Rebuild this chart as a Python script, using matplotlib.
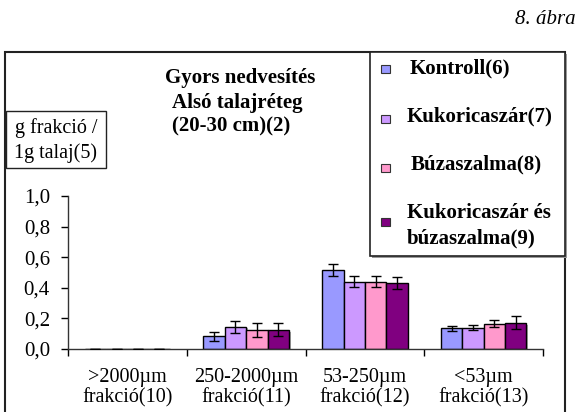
import matplotlib
matplotlib.use("Agg")
import matplotlib.pyplot as plt
import matplotlib.patheffects as pe
from matplotlib.patches import Rectangle
import numpy as np

plt.rcParams['font.family'] = ['Liberation Serif', 'DejaVu Serif']

# size fractions (x groups) and treatments (bars)
fractions = ['>2000µm\nfrakció(10)', '250-2000µm\nfrakció(11)',
             '53-250µm\nfrakció(12)', '<53µm\nfrakció(13)']
treatments = ['Kontroll(6)', 'Kukoricaszár(7)', 'Búzaszalma(8)',
              'Kukoricaszár és\nbúzaszalma(9)']
colors = ['#9999FF', '#CC99FF', '#FF99CC', '#800080']

# g fraction / 1 g soil, one list per treatment
kontroll = [0.0, 0.082, 0.518, 0.134]
kukorica = [0.0, 0.145, 0.441, 0.140]
buza = [0.0, 0.125, 0.441, 0.165]
kukorica_buza = [0.0, 0.125, 0.430, 0.171]

kontroll_err = [0.0, 0.028, 0.038, 0.015]
kukorica_err = [0.0, 0.040, 0.038, 0.016]
buza_err = [0.0, 0.047, 0.038, 0.024]
kukorica_buza_err = [0.0, 0.043, 0.040, 0.042]

values = [kontroll, kukorica, buza, kukorica_buza]
errors = [kontroll_err, kukorica_err, buza_err, kukorica_buza_err]

W, H = 579, 412
fig = plt.figure(figsize=(W / 100, H / 100), dpi=100)


def fx(px):
    return px / W


def fy(py):
    return 1 - py / H


ax = fig.add_axes([fx(68), fy(349), fx(543) - fx(68), fy(196) - fy(349)])

x = np.arange(len(fractions))
bw = 0.18
shadow = [pe.SimplePatchShadow(offset=(1.2, -1.2), shadow_rgbFace='#888888', alpha=0.7),
          pe.Normal()]
for i, (vals, errs) in enumerate(zip(values, errors)):
    pos = x + (i - 1.5) * bw
    bars = ax.bar(pos, vals, bw, color=colors[i], edgecolor='black', linewidth=1.0,
                  zorder=2)
    for b in bars:
        b.set_path_effects(shadow)
    ax.errorbar(pos, vals, yerr=errs, fmt='none', ecolor='black', elinewidth=1.0,
                capsize=3.5, capthick=1.0, zorder=3)

ax.set_xlim(-0.5, 3.5)
ax.set_ylim(0, 1.0)
ax.set_yticks(np.arange(0, 1.01, 0.2))
ax.set_yticklabels([f'{v:.1f}'.replace('.', ',') for v in np.arange(0, 1.01, 0.2)],
                   fontsize=15)
ax.tick_params(axis='y', direction='out', length=5, width=1, pad=8)

ax.set_xticks(x)
ax.set_xticklabels(fractions, fontsize=14.5, linespacing=1.05)
ax.tick_params(axis='x', length=0, pad=14)
ax.set_xticks(np.arange(-0.5, 4, 1), minor=True)
ax.tick_params(axis='x', which='minor', direction='out', length=5, width=1)

for s in ['top', 'right']:
    ax.spines[s].set_visible(False)
for s in ['left', 'bottom']:
    ax.spines[s].set_color('#333333')
    ax.spines[s].set_linewidth(1.0)

# outer frame (bottom edge runs past the image)
fig.patches.append(Rectangle((fx(5), -0.1), fx(565) - fx(5), fy(52) + 0.1,
                             transform=fig.transFigure, fill=False,
                             edgecolor='#222222', linewidth=1.5))

# y unit box
fig.patches.append(Rectangle((fx(6), fy(168)), fx(106) - fx(6), fy(111) - fy(168),
                             transform=fig.transFigure, fill=False,
                             edgecolor='#222222', linewidth=1.0))
fig.text(fx(56), fy(128), 'g frakció /', ha='center', va='center', fontsize=14.5)
fig.text(fx(56), fy(153), '1g talaj(5)', ha='center', va='center', fontsize=14.5)

# title block
fig.text(fx(165), fy(78), 'Gyors nedvesítés', ha='left', va='center',
         fontsize=15, fontweight='bold')
fig.text(fx(172), fy(103), 'Alsó talajréteg', ha='left', va='center',
         fontsize=15, fontweight='bold')
fig.text(fx(172), fy(126), '(20-30 cm)(2)', ha='left', va='center',
         fontsize=15, fontweight='bold')

fig.text(fx(576), fy(20), '8. ábra', ha='right', va='center', fontsize=15,
         style='italic')

# legend box with shadow
fig.patches.append(Rectangle((fx(372), fy(258)), fx(567) - fx(372), fy(54) - fy(258),
                             transform=fig.transFigure, facecolor='#999999',
                             edgecolor='none', zorder=1))
fig.patches.append(Rectangle((fx(370), fy(256)), fx(565) - fx(370), fy(52) - fy(256),
                             transform=fig.transFigure, facecolor='white',
                             edgecolor='#222222', linewidth=1.2, zorder=2))
marker_y = [69, 119, 168, 222]
text_y = [68, 116, 164, 226]
text_x = [410, 407, 411, 407]
for name, c, my, ty, tx in zip(treatments, colors, marker_y, text_y, text_x):
    fig.patches.append(Rectangle((fx(381), fy(my + 4)), fx(9), 8 / H,
                                 transform=fig.transFigure, facecolor=c,
                                 edgecolor='#333333', linewidth=0.8, zorder=3))
    fig.text(fx(tx), fy(ty), name, ha='left', va='center', fontsize=15,
             fontweight='bold', linespacing=1.35, zorder=4)

fig.savefig('out.png', dpi=100)
